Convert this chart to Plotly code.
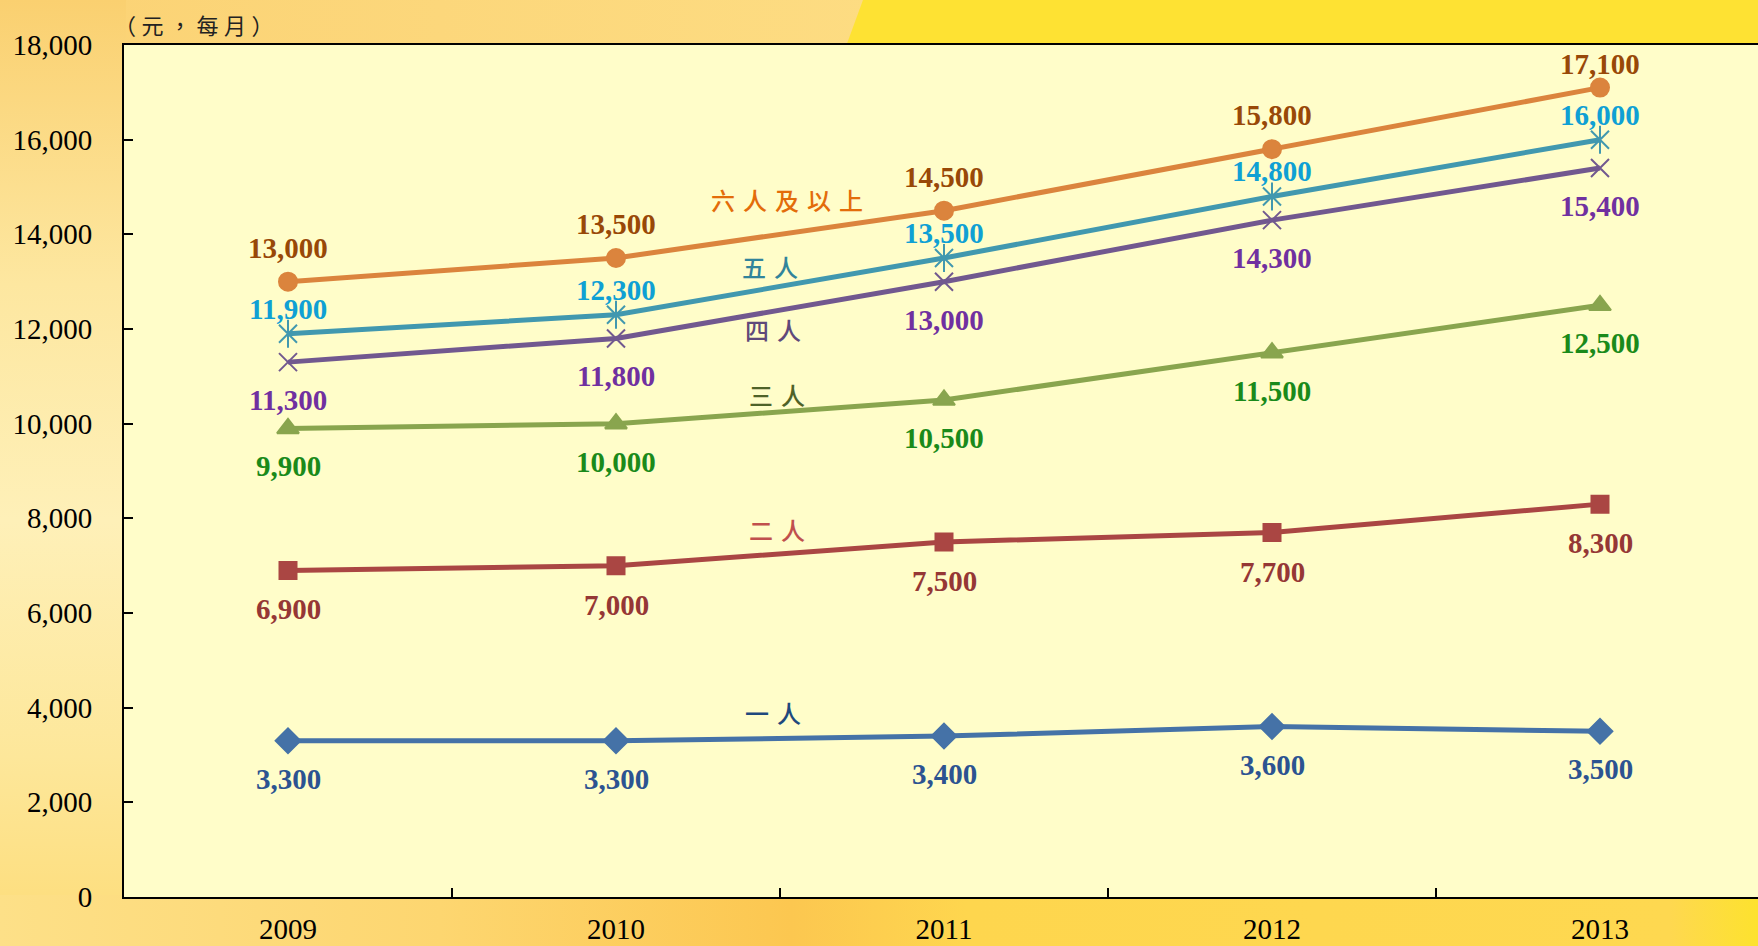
import base64
import plotly.graph_objects as go

years = ["2009", "2010", "2011", "2012", "2013"]
series_names = ["一人", "二人", "三人", "四人", "五人", "六人及以上"]
one_person = [3300, 3300, 3400, 3600, 3500]
two_person = [6900, 7000, 7500, 7700, 8300]
three_person = [9900, 10000, 10500, 11500, 12500]
four_person = [11300, 11800, 13000, 14300, 15400]
five_person = [11900, 12300, 13500, 14800, 16000]
six_plus = [13000, 13500, 14500, 15800, 17100]
y_ticks = [0, 2000, 4000, 6000, 8000, 10000, 12000, 14000, 16000, 18000]
unit_label = "（\u2005元\u2005，\u2005每\u2005月\u2005）"

W, H = 1758, 946
ML, MR, MT, MB = 124, 0, 45, 49

x = list(range(len(years)))
values = [one_person, two_person, three_person, four_person, five_person, six_plus]

line_colors = ["#4572A7", "#AA4643", "#89A54E", "#71588F", "#4198AF", "#DB843D"]
label_colors = ["#2C5391", "#953735", "#1A8A1A", "#7030A0", "#0FA0D4", "#984807"]
name_colors = ["#1F497D", "#C0504D", "#4F6228", "#5F497A", "#31849B", "#E36C0A"]
symbols = ["diamond", "square", "triangle-up", "x-thin-open", "x-thin-open", "circle"]
msizes = [19, 17, 19, 18, 18, 18]
label_shift = [-38, -39, -38, -38, 25, 34]
name_pos = [(1.48, 3900), (1.49, 7760), (1.49, 10620), (1.48, 11990), (1.47, 13310), (1.52, 14730)]
sp = "\u2004"
name_text = [sp.join(list(n)) for n in series_names]

PX0, PY0, PW, PH = ML, MT, W - ML - MR, H - MT - MB

svg = f'''<svg xmlns="http://www.w3.org/2000/svg" width="{W}" height="{H}" viewBox="0 0 {W} {H}">
<defs>
<linearGradient id="lg" x1="0" y1="0" x2="0" y2="1">
<stop offset="0" stop-color="#FAD070"/><stop offset="0.3" stop-color="#FDE7A0"/>
<stop offset="0.55" stop-color="#FEF0B8"/><stop offset="0.8" stop-color="#FDE79A"/>
<stop offset="1" stop-color="#FDDC78"/></linearGradient>
<linearGradient id="tg" x1="0" y1="0" x2="1" y2="0">
<stop offset="0" stop-color="#FBD274"/><stop offset="0.5" stop-color="#FDDC82"/>
<stop offset="1" stop-color="#FCD272"/></linearGradient>
<linearGradient id="bg" x1="0" y1="0" x2="1" y2="0">
<stop offset="0" stop-color="#FDE088"/><stop offset="0.25" stop-color="#FDD670"/>
<stop offset="0.45" stop-color="#FCC750"/><stop offset="0.55" stop-color="#FED64E"/>
<stop offset="0.95" stop-color="#FED850"/><stop offset="1" stop-color="#FDE22E"/></linearGradient>
</defs>
<rect x="0" y="0" width="{W}" height="{H}" fill="#FDDA78"/>
<rect x="0" y="0" width="{W}" height="{MT+4}" fill="url(#tg)"/>
<polygon points="863,0 {W},0 {W},{MT+4} 845,{MT+4}" fill="#FEE233"/>
<rect x="0" y="0" width="{ML+2}" height="{H}" fill="url(#lg)"/>
<rect x="0" y="{H-MB-2}" width="{W}" height="{MB+2}" fill="url(#bg)"/>
<rect x="{PX0}" y="{PY0}" width="{PW}" height="{PH}" fill="#FFFDC9"/>
</svg>'''
svg_uri = "data:image/svg+xml;base64," + base64.b64encode(svg.encode("utf-8")).decode("ascii")

fig = go.Figure()
for i, name in enumerate(series_names):
    fig.add_trace(go.Scatter(
        x=x, y=values[i], mode="lines+markers", name=name,
        line=dict(color=line_colors[i], width=5),
        marker=dict(symbol=symbols[i], size=msizes[i], color=line_colors[i],
                    line=dict(color=line_colors[i], width=2)),
        hoverinfo="skip", showlegend=False,
    ))
    if name == "五人":
        fig.add_trace(go.Scatter(
            x=x, y=values[i], mode="markers",
            marker=dict(symbol="line-ns-open", size=20, color=line_colors[i],
                        line=dict(color=line_colors[i], width=2)),
            hoverinfo="skip", showlegend=False,
        ))

annotations = []
for i, name in enumerate(series_names):
    for j, v in enumerate(values[i]):
        shift = label_shift[i]
        if name == "六人及以上" and j == len(years) - 1:
            shift = 24
        annotations.append(dict(
            x=x[j], y=v, xref="x", yref="y", text=f"{v:,}", showarrow=False,
            yshift=shift, xanchor="center", yanchor="middle",
            font=dict(family="Liberation Serif", size=29, color=label_colors[i], weight="bold"),
        ))
    nx, ny = name_pos[i]
    annotations.append(dict(
        x=nx, y=ny, xref="x", yref="y", text=name_text[i], showarrow=False,
        xanchor="center", yanchor="middle",
        font=dict(family="Noto Sans CJK TC", size=24, color=name_colors[i], weight=500),
    ))
annotations.append(dict(
    x=(194 - ML) / PW, y=1 + (MT - 24) / PH, xref="paper", yref="paper",
    text=unit_label, showarrow=False, xanchor="center", yanchor="middle",
    font=dict(family="Noto Sans CJK TC", size=22, color="#222222"),
))

fig.update_layout(
    width=W, height=H,
    margin=dict(l=ML, r=MR, t=MT, b=MB, pad=0, autoexpand=False),
    paper_bgcolor="#FDDA78",
    plot_bgcolor="rgba(0,0,0,0)",
    annotations=annotations,
    images=[dict(source=svg_uri, xref="paper", yref="paper",
                 x=-ML / PW, y=1 + MT / PH,
                 sizex=W / PW, sizey=H / PH,
                 xanchor="left", yanchor="top", sizing="stretch", layer="below")],
    xaxis=dict(
        range=[-0.5, -0.5 + PW / 328.0],
        tickmode="array", tickvals=x, ticktext=years,
        ticks="", showgrid=False, zeroline=False,
        showline=True, linecolor="black", linewidth=2, mirror=True,
        tickfont=dict(family="Liberation Serif", size=29, color="black"),
        ticklabelstandoff=5, automargin=False,
        minor=dict(tickmode="array", tickvals=[k + 0.5 for k in x[:-1]],
                   ticks="inside", ticklen=9, tickwidth=2, tickcolor="black"),
        fixedrange=True,
    ),
    yaxis=dict(
        range=[0, 18000], tickmode="array", tickvals=y_ticks,
        tickformat=",d", ticks="inside", ticklen=9, tickwidth=2, tickcolor="black",
        showgrid=False, zeroline=False,
        showline=True, linecolor="black", linewidth=2, mirror=False,
        tickfont=dict(family="Liberation Serif", size=29, color="black"),
        ticklabelstandoff=24, automargin=False,
        fixedrange=True,
    ),
)

fig.write_html("out.html", config={"displayModeBar": False},
               post_script="document.body.style.margin='0';document.body.style.overflow='hidden';")
